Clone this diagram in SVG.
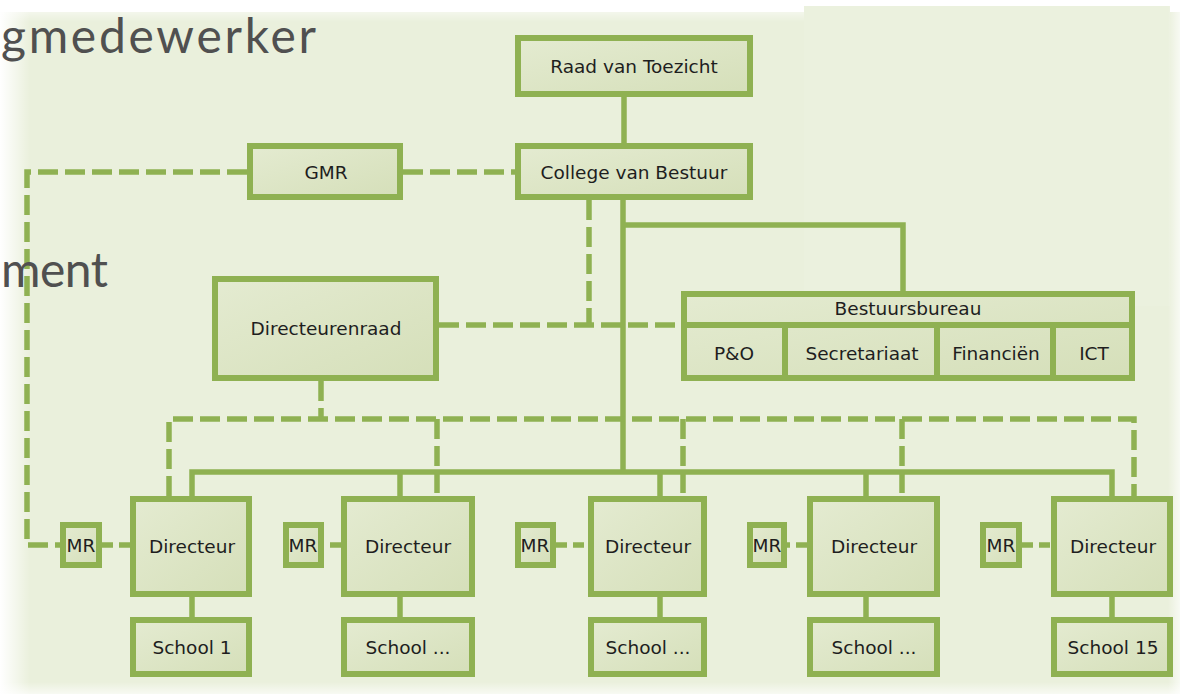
<svg xmlns="http://www.w3.org/2000/svg" width="1186" height="700" viewBox="0 0 1186 700">
  <defs>
    <linearGradient id="boxFill" x1="0" y1="0" x2="1" y2="1">
      <stop offset="0" stop-color="#e4ebd1"/>
      <stop offset="1" stop-color="#d5dfb9"/>
    </linearGradient>
    <linearGradient id="fadeLeft" x1="0" y1="0" x2="1" y2="0">
      <stop offset="0" stop-color="#ffffff" stop-opacity="1"/>
      <stop offset="1" stop-color="#ffffff" stop-opacity="0"/>
    </linearGradient>
    <linearGradient id="fadeRight" x1="0" y1="0" x2="1" y2="0">
      <stop offset="0" stop-color="#ffffff" stop-opacity="0"/>
      <stop offset="1" stop-color="#ffffff" stop-opacity="1"/>
    </linearGradient>
    <linearGradient id="fadeTop" x1="0" y1="0" x2="0" y2="1">
      <stop offset="0" stop-color="#ffffff" stop-opacity="1"/>
      <stop offset="1" stop-color="#ffffff" stop-opacity="0"/>
    </linearGradient>
    <linearGradient id="fadeBottom" x1="0" y1="0" x2="0" y2="1">
      <stop offset="0" stop-color="#ffffff" stop-opacity="0"/>
      <stop offset="1" stop-color="#ffffff" stop-opacity="1"/>
    </linearGradient>
  </defs>
  <style>
    .box { fill: url(#boxFill); stroke: #8fb152; stroke-width: 6; }
    .sep { stroke: #8fb152; stroke-width: 6; fill: none; }
    .solid { stroke: #8fb152; stroke-width: 5.5; fill: none; }
    .dash { stroke: #8fb152; stroke-width: 5.5; fill: none; stroke-dasharray: 20 7; }
    .dashs { stroke: #8fb152; stroke-width: 5.5; fill: none; stroke-dasharray: 11 6; }
    .lbl { font-family: "DejaVu Sans", Verdana, sans-serif; font-size: 18.5px; fill: #1e1e1e; text-anchor: middle; dominant-baseline: central; }
    .over { font-family: Lato, "Open Sans", sans-serif; font-size: 48px; fill: #505050; }
  </style>

  <!-- background -->
  <rect x="0" y="0" width="1186" height="700" fill="#ffffff"/>
  <rect x="0" y="12" width="1180" height="682" fill="#eaf0dc"/>
  <rect x="804" y="6" width="366" height="300" fill="#ebf1de"/>
  <rect x="0" y="0" width="30" height="700" fill="url(#fadeLeft)"/>
  <rect x="0" y="0" width="804" height="22" fill="url(#fadeTop)"/>
  <rect x="1168" y="0" width="18" height="700" fill="url(#fadeRight)"/>
  <rect x="0" y="682" width="1186" height="18" fill="url(#fadeBottom)"/>

  <!-- connectors -->
  <g id="connectors">
    <path class="solid" d="M624 97 V143"/>
    <path class="solid" d="M623 200 V472"/>
    <path class="solid" d="M623 225 H903 V291"/>
    <path class="solid" d="M192 496 V472 H1112 V496"/>
    <path class="solid" d="M400 472 V496 M660 472 V496 M866 472 V496"/>
    <path class="solid" d="M192 597 V617 M400 597 V617 M660 597 V617 M866 597 V617 M1112 597 V617"/>

    <path class="dash" d="M403 172 H515"/>
    <path class="dash" d="M247 172 H27 V545 H60"/>
    <path class="dash" d="M589 200 V325"/>
    <path class="dash" d="M439 325 H681"/>
    <path class="dash" d="M321 381 V419"/>
    <path class="dash" d="M169 496 V419 H1134 V496"/>
    <path class="dash" d="M437 419 V496 M683 419 V496 M902 419 V496"/>

    <path class="dashs" d="M102 545 H130"/>
    <path class="dashs" d="M341 545 H324"/>
    <path class="dashs" d="M556 545 H588"/>
    <path class="dashs" d="M807 545 H787"/>
    <path class="dashs" d="M1022 545 H1051"/>
  </g>

  <!-- nodes -->
  <g id="raad">
    <rect class="box" x="518" y="38" width="232" height="56"/>
    <text class="lbl" x="634" y="66">Raad van Toezicht</text>
  </g>
  <g id="college">
    <rect class="box" x="518" y="146" width="232" height="51"/>
    <text class="lbl" x="634" y="172">College van Bestuur</text>
  </g>
  <g id="gmr">
    <rect class="box" x="250" y="146" width="150" height="51"/>
    <text class="lbl" x="326" y="172">GMR</text>
  </g>
  <g id="directeurenraad">
    <rect class="box" x="215" y="279" width="221" height="99"/>
    <text class="lbl" x="326" y="328">Directeurenraad</text>
  </g>
  <g id="bestuursbureau">
    <rect class="box" x="684" y="294" width="448" height="84"/>
    <path class="sep" d="M684 325 H1132 M785 325 V378 M937 325 V378 M1053 325 V378"/>
    <text class="lbl" x="908" y="308">Bestuursbureau</text>
    <text class="lbl" x="734" y="353">P&amp;O</text>
    <text class="lbl" x="862" y="353">Secretariaat</text>
    <text class="lbl" x="996" y="353">Financiën</text>
    <text class="lbl" x="1094" y="353">ICT</text>
  </g>

  <g id="mr1"><rect class="box" x="63" y="525" width="36" height="40"/><text class="lbl" x="81" y="545">MR</text></g>
  <g id="mr2"><rect class="box" x="286" y="525" width="35" height="40"/><text class="lbl" x="303" y="545">MR</text></g>
  <g id="mr3"><rect class="box" x="518" y="525" width="35" height="40"/><text class="lbl" x="535" y="545">MR</text></g>
  <g id="mr4"><rect class="box" x="750" y="525" width="34" height="40"/><text class="lbl" x="767" y="545">MR</text></g>
  <g id="mr5"><rect class="box" x="983" y="525" width="36" height="40"/><text class="lbl" x="1001" y="545">MR</text></g>

  <g id="directeur1"><rect class="box" x="133" y="499" width="116" height="95"/><text class="lbl" x="192" y="546">Directeur</text></g>
  <g id="directeur2"><rect class="box" x="344" y="499" width="128" height="95"/><text class="lbl" x="408" y="546">Directeur</text></g>
  <g id="directeur3"><rect class="box" x="591" y="499" width="113" height="95"/><text class="lbl" x="648" y="546">Directeur</text></g>
  <g id="directeur4"><rect class="box" x="810" y="499" width="127" height="95"/><text class="lbl" x="874" y="546">Directeur</text></g>
  <g id="directeur5"><rect class="box" x="1054" y="499" width="116" height="95"/><text class="lbl" x="1113" y="546">Directeur</text></g>

  <g id="school1"><rect class="box" x="133" y="620" width="116" height="54"/><text class="lbl" x="192" y="647">School 1</text></g>
  <g id="school2"><rect class="box" x="344" y="620" width="128" height="54"/><text class="lbl" x="408" y="647">School ...</text></g>
  <g id="school3"><rect class="box" x="591" y="620" width="113" height="54"/><text class="lbl" x="648" y="647">School ...</text></g>
  <g id="school4"><rect class="box" x="810" y="620" width="127" height="54"/><text class="lbl" x="874" y="647">School ...</text></g>
  <g id="school5"><rect class="box" x="1054" y="620" width="116" height="54"/><text class="lbl" x="1113" y="647">School 15</text></g>

  <!-- overlaid page text -->
  <text class="over" x="1" y="53" textLength="315" lengthAdjust="spacing">gmedewerker</text>
  <text class="over" x="1" y="287" textLength="107" lengthAdjust="spacing">ment</text>
</svg>
